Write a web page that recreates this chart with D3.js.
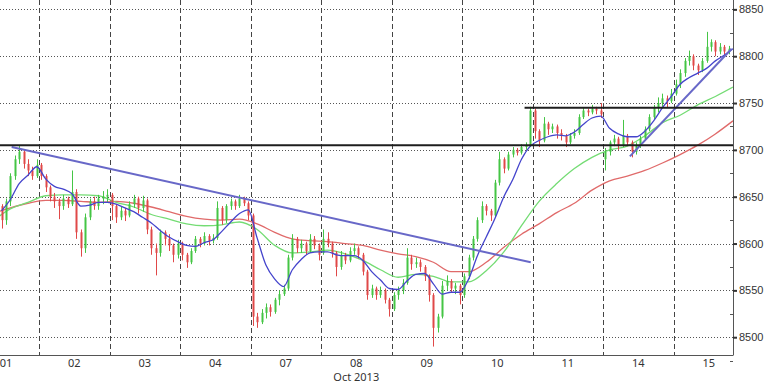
<!DOCTYPE html>
<html>
<head>
<meta charset="utf-8">
<script src="https://cdn.jsdelivr.net/npm/d3@7/dist/d3.min.js"></script>
<style>
  body { margin: 0; background: #fff; }
  svg { display: block; font-family: "Noto Sans", "Liberation Sans", sans-serif; }
  .lbl { font-size: 11px; fill: #333; }
</style>
</head>
<body>
<div id="chart"></div>
<script>
// day labels, 16 bar slots per day
var days = ["01", "02", "03", "04", "07", "08", "09", "10", "11", "14", "15"];
var monthLabel = "Oct 2013";
var priceTicks = [8500, 8550, 8600, 8650, 8700, 8750, 8800, 8850];

// first visible bar slot (day 01 is cut at the left edge)
var firstSlot = 7;

// [open, high, low, close]
var bars = [
  // 01
  [8640,8642,8616,8625],[8625,8648,8620,8645],[8645,8675,8640,8672],[8672,8694,8668,8690],
  [8690,8704,8685,8698],[8698,8700,8680,8685],[8685,8690,8672,8678],[8678,8682,8668,8672],
  [8672,8690,8670,8684],
  // 02
  [8684,8686,8668,8672],[8672,8674,8655,8660],[8660,8662,8645,8650],[8650,8654,8638,8645],
  [8645,8648,8626,8640],[8640,8652,8636,8648],[8648,8650,8638,8642],[8642,8678,8640,8655],
  [8655,8658,8605,8612],[8612,8615,8586,8595],[8595,8632,8590,8628],[8628,8648,8625,8645],
  [8645,8650,8636,8640],[8640,8652,8636,8648],[8648,8656,8642,8650],[8650,8658,8644,8652],
  // 03
  [8652,8654,8625,8640],[8640,8642,8622,8628],[8628,8640,8625,8635],[8635,8638,8624,8630],
  [8630,8645,8628,8642],[8642,8652,8638,8648],[8648,8650,8632,8638],[8638,8651,8634,8646],
  [8646,8648,8610,8615],[8615,8618,8588,8595],[8595,8600,8566,8590],[8590,8615,8586,8612],
  [8612,8614,8598,8605],[8605,8610,8592,8598],[8598,8600,8580,8588],[8588,8604,8584,8600],
  // 04
  [8600,8602,8582,8588],[8588,8590,8574,8580],[8580,8595,8578,8592],[8592,8608,8590,8605],
  [8605,8607,8596,8600],[8600,8612,8598,8608],[8608,8610,8598,8603],[8603,8610,8600,8606],
  [8606,8645,8604,8638],[8638,8640,8620,8625],[8625,8642,8622,8640],[8640,8648,8636,8645],
  [8645,8647,8636,8640],[8640,8652,8638,8648],[8648,8650,8640,8643],[8643,8645,8625,8630],
  // 07
  [8630,8632,8512,8522],[8522,8526,8510,8516],[8516,8530,8514,8526],[8526,8536,8520,8532],
  [8532,8535,8522,8527],[8527,8542,8525,8540],[8540,8550,8534,8546],[8546,8556,8544,8552],
  [8552,8588,8550,8585],[8585,8610,8582,8605],[8605,8607,8590,8595],[8595,8604,8590,8600],
  [8600,8602,8588,8592],[8592,8610,8590,8605],[8605,8608,8594,8598],[8598,8600,8582,8588],
  // 08
  [8590,8615,8588,8605],[8605,8612,8596,8600],[8600,8602,8585,8590],[8590,8592,8565,8575],
  [8575,8592,8572,8588],[8588,8590,8578,8582],[8582,8596,8580,8592],[8592,8600,8588,8595],
  [8595,8597,8584,8588],[8588,8590,8566,8570],[8570,8572,8540,8545],[8545,8556,8542,8552],
  [8552,8554,8540,8545],[8545,8554,8542,8550],[8550,8552,8536,8540],[8540,8542,8522,8530],
  // 09
  [8530,8548,8528,8545],[8545,8554,8540,8550],[8550,8562,8546,8558],[8558,8595,8556,8585],
  [8585,8588,8572,8578],[8578,8585,8574,8580],[8580,8583,8570,8575],[8575,8577,8560,8565],
  [8565,8567,8538,8545],[8545,8547,8490,8510],[8510,8525,8505,8522],[8522,8560,8520,8555],
  [8555,8566,8550,8560],[8560,8562,8548,8552],[8552,8558,8546,8555],[8555,8557,8535,8545],
  // 10
  [8545,8568,8542,8565],[8565,8588,8562,8585],[8585,8608,8582,8605],[8605,8628,8602,8625],
  [8625,8645,8622,8640],[8640,8642,8630,8635],[8635,8637,8624,8630],[8630,8668,8628,8665],
  [8665,8698,8662,8690],[8690,8692,8675,8680],[8680,8698,8678,8695],[8695,8703,8692,8700],
  [8700,8702,8694,8697],[8697,8706,8695,8703],[8703,8708,8700,8705],[8705,8746,8703,8742],
  // 11
  [8742,8744,8712,8720],[8720,8722,8703,8710],[8710,8735,8708,8728],[8728,8730,8716,8722],
  [8722,8728,8718,8725],[8725,8727,8712,8718],[8718,8722,8710,8715],[8715,8717,8703,8708],
  [8708,8718,8706,8715],[8715,8722,8712,8718],[8718,8738,8716,8735],[8735,8745,8733,8742],
  [8742,8744,8736,8740],[8740,8748,8738,8744],[8744,8746,8738,8742],[8742,8750,8734,8738],
  // 14
  [8690,8702,8678,8698],[8698,8710,8694,8708],[8708,8716,8704,8712],[8712,8714,8700,8705],
  [8705,8732,8703,8715],[8715,8717,8704,8708],[8708,8710,8692,8698],[8698,8708,8695,8705],
  [8705,8715,8702,8712],[8712,8725,8710,8722],[8722,8738,8720,8735],[8735,8748,8733,8745],
  [8745,8756,8740,8750],[8750,8760,8746,8755],[8755,8758,8745,8752],[8752,8765,8750,8760],
  // 15
  [8760,8775,8758,8770],[8770,8786,8766,8782],[8782,8798,8778,8795],[8795,8806,8790,8800],
  [8800,8802,8785,8790],[8790,8792,8780,8785],[8785,8798,8783,8795],[8795,8826,8793,8810],
  [8810,8818,8805,8815],[8815,8817,8800,8805],[8805,8814,8802,8810],[8810,8812,8800,8805],
  [8805,8811,8802,8808]
];

// fast average, one value every 2 slots from slot 7
var maFastStart = 7, maFastStep = 2;
var maFast = [
  8635,8647,8664,8673,8682,8669,8661,8658,8653,8640,8641,8644,8644,8642,8638,8634,
  8628,8622,8614,8607,8602,8598,8597,8601,8604,8613,8623,8632,8636,8606,8577,8562,
  8554,8572,8583,8590,8591,8591,8588,8587,8587,8582,8570,8561,8552,8551,8560,8567,
  8568,8557,8546,8548,8548,8562,8587,8607,8627,8650,8668,8690,8704,8710,8714,8716,
  8715,8719,8727,8734,8736,8723,8717,8714,8714,8720,8731,8745,8757,8770,8777,8782,
  8787,8795,8801,8808
];

// medium and slow averages, one value every 4 slots from slot 5
var maSlowStart = 5, maSlowStep = 4;
var maMid = [
  8624,8637,8644,8651,8652,8652,8651,8644,8639,8631,8626,8621,8619,8620,8623,8615,
  8598,8590,8591,8593,8589,8582,8572,8564,8567,8565,8559,8559,8571,8591,8619,8645,
  8664,8680,8692,8700,8704,8715,8729,8737,8748,8757,8767
];
var maSlow = [
  8632,8638,8643,8646,8646,8645,8644,8645,8643,8639,8634,8629,8626,8625,8626,8621,
  8612,8605,8603,8602,8600,8598,8593,8589,8586,8580,8570,8570,8580,8596,8610,8621,
  8633,8643,8657,8667,8672,8678,8686,8695,8705,8717,8731
];

// drawn lines: [slot1, price1, slot2, price2]
var trendDown = [9.8, 8703, 127.6, 8580];
var trendUp = [150.1, 8693, 173.2, 8808];
var supportLevels = [[0, 8705], [126.2, 8745]];

var W = 768, H = 384;
var plotR = 733, plotB = 355;
var slotsPerDay = 16;

var x = d3.scaleLinear()
  .domain([0, days.length*slotsPerDay])
  .range([-31.5, -31.5 + days.length*70.5]);
var y = d3.scaleLinear().domain([8481, 8860]).range([plotB, 0]);

var svg = d3.select("#chart").append("svg")
  .attr("width", W).attr("height", H);

svg.append("defs").append("clipPath").attr("id", "clip")
  .append("rect").attr("x", 0).attr("y", 0).attr("width", plotR).attr("height", plotB);

// grid
svg.append("g").selectAll("line").data(priceTicks).join("line")
  .attr("x1", 0).attr("x2", plotR)
  .attr("y1", d => Math.round(y(d)) + 0.5).attr("y2", d => Math.round(y(d)) + 0.5)
  .attr("stroke", "#555").attr("stroke-dasharray", "1,2");

svg.append("g").selectAll("line").data(d3.range(1, days.length)).join("line")
  .attr("x1", d => Math.round(x(d*slotsPerDay)) + 0.5).attr("x2", d => Math.round(x(d*slotsPerDay)) + 0.5)
  .attr("y1", 0).attr("y2", plotB)
  .attr("stroke", "#444").attr("stroke-dasharray", "5,3");

var plot = svg.append("g").attr("clip-path", "url(#clip)");

// moving averages
function drawMa(vals, start, step, color) {
  var line = d3.line()
    .x((d, i) => x(start + i*step + 0.5))
    .y(d => y(d))
    .curve(d3.curveMonotoneX);
  plot.append("path").datum(vals)
    .attr("d", line).attr("fill", "none")
    .attr("stroke", color).attr("stroke-width", 1.3);
}
drawMa(maSlow, maSlowStart, maSlowStep, "#e06a6a");
drawMa(maMid, maSlowStart, maSlowStep, "#74dc74");

// candles
var up = "#45c545", down = "#e04848";
var candle = plot.append("g").selectAll("g").data(bars).join("g");
candle.append("line")
  .attr("x1", (d, i) => Math.round(x(firstSlot + i + 0.5)) + 0.5)
  .attr("x2", (d, i) => Math.round(x(firstSlot + i + 0.5)) + 0.5)
  .attr("y1", d => y(d[1])).attr("y2", d => y(d[2]))
  .attr("stroke", d => d[3] >= d[0] ? up : down).attr("stroke-width", 1);
candle.append("rect")
  .attr("x", (d, i) => Math.round(x(firstSlot + i + 0.5)) - 0.5)
  .attr("width", 2)
  .attr("y", d => y(Math.max(d[0], d[3])))
  .attr("height", d => Math.max(1, Math.abs(y(d[0]) - y(d[3]))))
  .attr("fill", d => d[3] >= d[0] ? up : down);

drawMa(maFast, maFastStart, maFastStep, "#4444cc");

// trend lines and levels
[trendDown, trendUp].forEach(t => {
  plot.append("line")
    .attr("x1", x(t[0])).attr("y1", y(t[1]))
    .attr("x2", x(t[2])).attr("y2", y(t[3]))
    .attr("stroke", "#6868c8").attr("stroke-width", 2);
});
plot.selectAll(".lvl").data(supportLevels).join("line")
  .attr("class", "lvl")
  .attr("x1", d => x(d[0])).attr("x2", plotR)
  .attr("y1", d => y(d[1])).attr("y2", d => y(d[1]))
  .attr("stroke", "#1e1e1e").attr("stroke-width", 2);

// axes
var yAxis = d3.axisRight(y).tickValues(priceTicks).tickSize(4).tickPadding(2).tickFormat(d3.format("d"));
var ga = svg.append("g").attr("transform", "translate(" + plotR + ",0)").call(yAxis);
ga.select(".domain").attr("stroke", "#555").attr("d", "M0.5,0V" + plotB);
ga.selectAll(".tick line").attr("stroke", "#333").attr("stroke-width", 2);
ga.selectAll(".tick text").attr("class", "lbl").attr("font-size", null).attr("font-family", null);

svg.append("g").selectAll("line").data(d3.range(8475, 8860, 25).filter(v => v % 50 !== 0)).join("line")
  .attr("x1", plotR - 3).attr("x2", plotR)
  .attr("y1", d => Math.round(y(d)) + 0.5).attr("y2", d => Math.round(y(d)) + 0.5)
  .attr("stroke", "#555");

svg.append("line")
  .attr("x1", 0).attr("x2", plotR + 0.5)
  .attr("y1", plotB + 0.5).attr("y2", plotB + 0.5)
  .attr("stroke", "#555");

svg.append("g").selectAll("text").data(days).join("text")
  .attr("class", "lbl")
  .attr("x", (d, i) => Math.max(6, x(i*slotsPerDay + slotsPerDay/2)))
  .attr("y", 367)
  .attr("text-anchor", "middle")
  .text(d => d);

svg.append("text").attr("class", "lbl")
  .attr("x", x(5*slotsPerDay + slotsPerDay/2)).attr("y", 381)
  .attr("text-anchor", "middle")
  .text(monthLabel);
</script>
</body>
</html>
